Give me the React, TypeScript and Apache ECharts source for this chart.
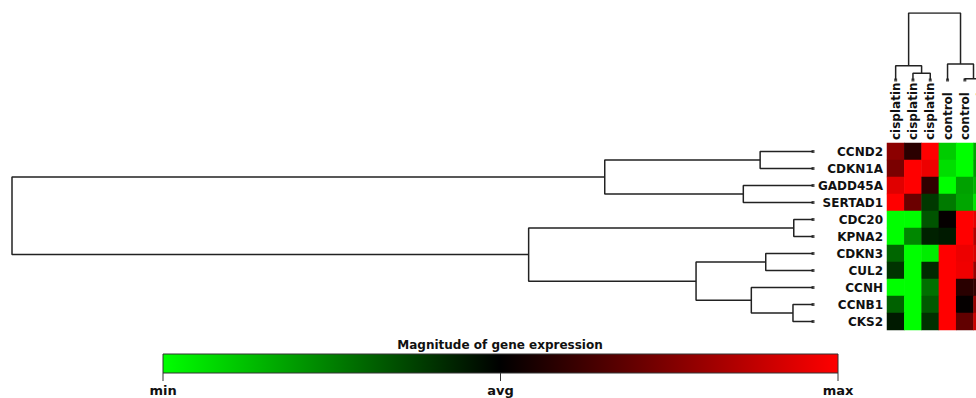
import React, { useEffect, useRef } from "react";
import * as echarts from "echarts";

const genes = ["CCND2", "CDKN1A", "GADD45A", "SERTAD1", "CDC20", "KPNA2", "CDKN3", "CUL2", "CCNH", "CCNB1", "CKS2"];
const samples = ["cisplatin", "cisplatin", "cisplatin", "control", "control", "control"];

// expression scaled to [-1 (min, green), 0 (avg, black), 1 (max, red)]; rows = genes, cols = samples
const expression = [
  [0.55, 0.17, 1.0, -0.8, -1.0, -0.65],
  [0.48, 1.0, 0.93, -0.87, -1.0, -0.6],
  [0.88, 1.0, 0.19, -1.0, -0.63, -0.7],
  [1.0, 0.42, -0.22, -0.48, -0.65, -0.9],
  [-1.0, -1.0, -0.33, 0.02, 1.0, 0.9],
  [-1.0, -0.53, -0.13, -0.1, 1.0, 0.7],
  [-0.4, -1.0, -0.93, 1.0, 0.93, 0.85],
  [-0.2, -1.0, -0.16, 1.0, 0.94, 0.6],
  [-1.0, -1.0, -0.44, 1.0, 0.16, 0.2],
  [-0.38, -1.0, -0.35, 1.0, 0.02, 0.6],
  [-0.1, -1.0, -0.19, 1.0, 0.38, 0.8],
];

// linkage: [childA, childB, height]; leaves are 0..n-1, merged nodes n, n+1, ...
const rowLinkage: [number, number, number][] = [
  [4, 5, 0.024],
  [9, 10, 0.025],
  [6, 7, 0.059],
  [0, 1, 0.066],
  [8, 12, 0.077],
  [2, 3, 0.087],
  [13, 15, 0.146],
  [14, 16, 0.26],
  [11, 17, 0.355],
  [18, 19, 1.0],
];
const colLinkage: [number, number, number][] = [
  [4, 5, 0.02],
  [1, 2, 0.1],
  [0, 7, 0.214],
  [3, 6, 0.24],
  [8, 9, 1.0],
];

const colorbarTitle = "Magnitude of gene expression";
const colorbarLabels = ["min", "avg", "max"];

function dendroSegments(n: number, link: [number, number, number][]) {
  const pos: number[] = [];
  const h: number[] = [];
  for (let i = 0; i < n; i++) {
    pos.push(i + 0.5);
    h.push(0);
  }
  const segs: [number, number][][] = [];
  link.forEach(([a, b, ht]) => {
    segs.push([
      [h[a], pos[a]],
      [ht, pos[a]],
      [ht, pos[b]],
      [h[b], pos[b]],
    ]);
    pos.push((pos[a] + pos[b]) / 2);
    h.push(ht);
  });
  return segs;
}

const FONT = "DejaVu Sans";

export default function App() {
  const ref = useRef<HTMLDivElement>(null);
  useEffect(() => {
    if (!ref.current) return;
    const chart = echarts.init(ref.current, undefined, { renderer: "svg" });

    const heatData: [number, number, number][] = [];
    expression.forEach((row, r) => row.forEach((v, c) => heatData.push([c, r, v])));

    const lineStyle = { color: "#222", width: 1.5 };
    const rowSegs = dendroSegments(genes.length, rowLinkage);
    const colSegs = dendroSegments(samples.length, colLinkage);

    const series: any[] = [
      {
        type: "heatmap",
        xAxisIndex: 0,
        yAxisIndex: 0,
        data: heatData,
        itemStyle: { borderWidth: 0 },
        silent: true,
      },
    ];
    rowSegs.forEach((s) =>
      series.push({
        type: "line",
        xAxisIndex: 1,
        yAxisIndex: 1,
        data: s,
        symbol: "none",
        lineStyle,
        silent: true,
      })
    );
    colSegs.forEach((s) =>
      series.push({
        type: "line",
        xAxisIndex: 2,
        yAxisIndex: 2,
        data: s.map(([d, p]) => [p, d]),
        symbol: "none",
        lineStyle,
        silent: true,
      })
    );
    series.push({
      type: "scatter",
      xAxisIndex: 1,
      yAxisIndex: 1,
      data: genes.map((_, i) => [0, i + 0.5]),
      symbol: "rect",
      symbolSize: 3,
      itemStyle: { color: "#222" },
      silent: true,
    });
    series.push({
      type: "scatter",
      xAxisIndex: 2,
      yAxisIndex: 2,
      data: samples.map((_, i) => [i + 0.5, 0]),
      symbol: "rect",
      symbolSize: 3,
      itemStyle: { color: "#222" },
      silent: true,
    });

    const barX = 163;
    const barW = 675;
    const barY = 354;
    const barH = 19;

    chart.setOption({
      animation: false,
      backgroundColor: "#ffffff",
      grid: [
        { left: 887, top: 143, width: 103.8, height: 187 },
        { left: 12, top: 143, width: 801, height: 187 },
        { left: 887, top: 13, width: 103.8, height: 67 },
      ],
      xAxis: [
        {
          type: "category",
          gridIndex: 0,
          data: samples,
          position: "top",
          axisLine: { show: false },
          axisTick: { show: false },
          splitLine: { show: false },
          axisLabel: {
            rotate: -90,
            margin: 3,
            interval: 0,
            fontFamily: FONT,
            fontWeight: "bold",
            fontSize: 12,
            color: "#111",
          },
        },
        { type: "value", gridIndex: 1, min: 0, max: 1, inverse: true, show: false },
        { type: "value", gridIndex: 2, min: 0, max: 6, show: false },
      ],
      yAxis: [
        {
          type: "category",
          gridIndex: 0,
          data: genes,
          inverse: true,
          axisLine: { show: false },
          axisTick: { show: false },
          splitLine: { show: false },
          axisLabel: {
            margin: 4,
            interval: 0,
            fontFamily: FONT,
            fontWeight: "bold",
            fontSize: 12,
            color: "#111",
          },
        },
        { type: "value", gridIndex: 1, min: 0, max: 11, inverse: true, show: false },
        { type: "value", gridIndex: 2, min: 0, max: 1, show: false },
      ],
      visualMap: {
        type: "continuous",
        show: false,
        seriesIndex: 0,
        min: -1,
        max: 1,
        inRange: { color: ["#00ff00", "#000000", "#ff0000"] },
      },
      graphic: [
        {
          type: "text",
          x: 500,
          y: 345,
          style: {
            text: colorbarTitle,
            fontFamily: FONT,
            fontWeight: "bold",
            fontSize: 12,
            fill: "#111",
            align: "center",
            verticalAlign: "middle",
          },
        },
        {
          type: "rect",
          shape: { x: barX, y: barY, width: barW, height: barH },
          style: {
            fill: new echarts.graphic.LinearGradient(0, 0, 1, 0, [
              { offset: 0, color: "#00ff00" },
              { offset: 0.5, color: "#000000" },
              { offset: 1, color: "#ff0000" },
            ]),
            stroke: "#333",
            lineWidth: 1,
          },
        },
        ...colorbarLabels.map((t, i) => ({
          type: "line",
          shape: {
            x1: barX + (barW * i) / 2,
            y1: barY + barH,
            x2: barX + (barW * i) / 2,
            y2: barY + barH + 8,
          },
          style: { stroke: "#333", lineWidth: 1 },
        })),
        ...colorbarLabels.map((t, i) => ({
          type: "text",
          x: barX + (barW * i) / 2,
          y: 390,
          style: {
            text: t,
            fontFamily: FONT,
            fontWeight: "bold",
            fontSize: 13,
            fill: "#111",
            align: "center",
            verticalAlign: "middle",
          },
        })),
      ],
      series,
    });
    return () => chart.dispose();
  }, []);
  return (
    <div
      style={{ position: "fixed", left: 0, top: 0, width: 976, height: 398, overflow: "hidden" }}
    >
      <div ref={ref} style={{ width: 1010, height: 398 }} />
    </div>
  );
}
